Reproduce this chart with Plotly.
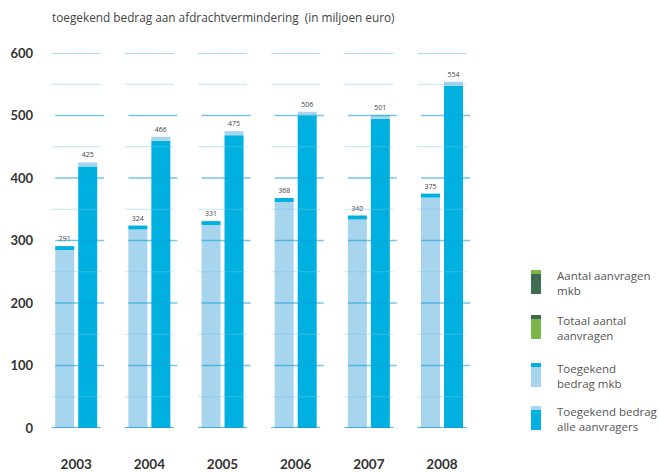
import plotly.graph_objects as go

# ---- data ----
years = [2003, 2004, 2005, 2006, 2007, 2008]
mkb = [291, 324, 331, 368, 340, 375]          # Toegekend bedrag mkb
alle = [425, 466, 475, 506, 501, 554]         # Toegekend bedrag alle aanvragers
y_ticks = [0, 100, 200, 300, 400, 500, 600]
grid_levels = [0, 50, 100, 150, 200, 250, 300, 350, 400, 450, 500, 550, 600]

legend_labels = ["Aantal aanvragen<br>mkb", "Totaal aantal<br>aanvragen",
                 "Toegekend<br>bedrag mkb", "Toegekend bedrag<br>alle aanvragers"]

# ---- style ----
LIGHT = "#a8d5ee"
CYAN = "#00b0e0"
DKGREEN = "#3f6b50"
LTGREEN = "#7cb548"
W, H = 659, 472
ML, MR, MT, MB = 40, 139, 53, 44
PW, PH = W - ML - MR, H - MT - MB
X0, X1 = 2002.505, 2009.066
PXU = PW / (X1 - X0)           # pixels per year
YMAX = 600
CAP = 4 * YMAX / PH            # 4 px cap in data units
BW = 19 / PXU
OFF_MKB = -21 / PXU
OFF_ALL = 2 / PXU
SEG = 24.5 / PXU
SHIFT = 3.5 / PXU


def px_x(p):
    return (p - ML) / PW


def px_y(p):
    return (H - MB - p) / PH


fig = go.Figure()

# mkb bars (light body + cyan cap)
fig.add_bar(x=years, y=[v - CAP for v in mkb], base=0, width=BW, offset=OFF_MKB,
            marker=dict(color=LIGHT, line=dict(width=0)), hoverinfo="skip")
fig.add_bar(x=years, y=[CAP] * len(mkb), base=[v - CAP for v in mkb], width=BW, offset=OFF_MKB,
            marker=dict(color=CYAN, line=dict(width=0)),
            text=[str(v) for v in mkb], textposition="outside", constraintext="none",
            textfont=dict(size=7, color="#444444", family="Open Sans"), cliponaxis=False,
            hoverinfo="skip")
# alle bars (cyan body + light cap)
fig.add_bar(x=years, y=[v - CAP for v in alle], base=0, width=BW, offset=OFF_ALL,
            marker=dict(color=CYAN, line=dict(width=0)), hoverinfo="skip")
fig.add_bar(x=years, y=[CAP] * len(alle), base=[v - CAP for v in alle], width=BW, offset=OFF_ALL,
            marker=dict(color=LIGHT, line=dict(width=0)),
            text=[str(v) for v in alle], textposition="outside", constraintext="none",
            textfont=dict(size=7, color="#444444", family="Open Sans"), cliponaxis=False,
            hoverinfo="skip")

shapes = []
for yr in years:
    for lv in grid_levels:
        if lv == 0:
            col, wd, sh, lay = "#1d9ad6", 1.3, 0, "above"
        elif lv % 100 == 0 and lv != YMAX:
            col, wd, sh, lay = "rgba(20,160,215,0.6)", 1.3, SHIFT, "above"
        elif lv == YMAX:
            col, wd, sh, lay = "rgba(20,160,215,0.75)", 1.1, 0, "above"
        else:
            col, wd, sh, lay = "rgba(120,200,235,0.45)", 1.1, 0, "above"
        shapes.append(dict(type="line", xref="x", yref="y",
                           x0=yr - SEG + sh, x1=yr + SEG + sh, y0=lv, y1=lv,
                           line=dict(color=col, width=wd), layer=lay))

# legend swatches (body, top strip)
leg_colors = [(DKGREEN, LTGREEN), (LTGREEN, DKGREEN), (LIGHT, CYAN), (CYAN, LIGHT)]
leg_tops = [270, 315, 363, 406]
annotations = []
for (body, top), ty, lab in zip(leg_colors, leg_tops, legend_labels):
    shapes.append(dict(type="rect", xref="paper", yref="paper",
                       x0=px_x(531), x1=px_x(541), y0=px_y(ty + 24), y1=px_y(ty + 4),
                       fillcolor=body, line=dict(width=0)))
    shapes.append(dict(type="rect", xref="paper", yref="paper",
                       x0=px_x(531), x1=px_x(541), y0=px_y(ty + 4), y1=px_y(ty),
                       fillcolor=top, line=dict(width=0)))
    annotations.append(dict(xref="paper", yref="paper", x=px_x(555), y=px_y(ty + 13),
                            xanchor="left", yanchor="middle", align="left", showarrow=False,
                            text=lab, font=dict(size=11.5, color="#555555", family="Open Sans")))

fig.update_layout(
    width=W, height=H, margin=dict(l=ML, r=MR, t=MT, b=MB, autoexpand=False),
    paper_bgcolor="white", plot_bgcolor="white",
    barmode="overlay", showlegend=False,
    title=dict(text="toegekend bedrag aan afdrachtvermindering  (in miljoen euro)",
               x=52 / W, xanchor="left", y=1 - 18 / H, yanchor="middle",
               font=dict(size=11.8, color="#444444", family="Open Sans")),
    xaxis=dict(range=[X0, X1], tickvals=years, ticktext=[str(y) for y in years],
               showgrid=False, zeroline=False, showline=False, ticks="",
               ticklabelstandoff=26, automargin=False,
               tickfont=dict(size=13.5, color="#333333", family="Lato", weight="bold")),
    yaxis=dict(range=[0, YMAX], tickvals=y_ticks, showgrid=False, zeroline=False,
               showline=False, ticks="", ticklabelstandoff=6, automargin=False,
               tickfont=dict(size=13, color="#333333", family="Lato", weight="bold")),
    shapes=shapes, annotations=annotations,
)

fig.write_html("out.html", config={"displayModeBar": False},
               post_script="document.body.style.margin='0';document.body.style.overflow='hidden';")
